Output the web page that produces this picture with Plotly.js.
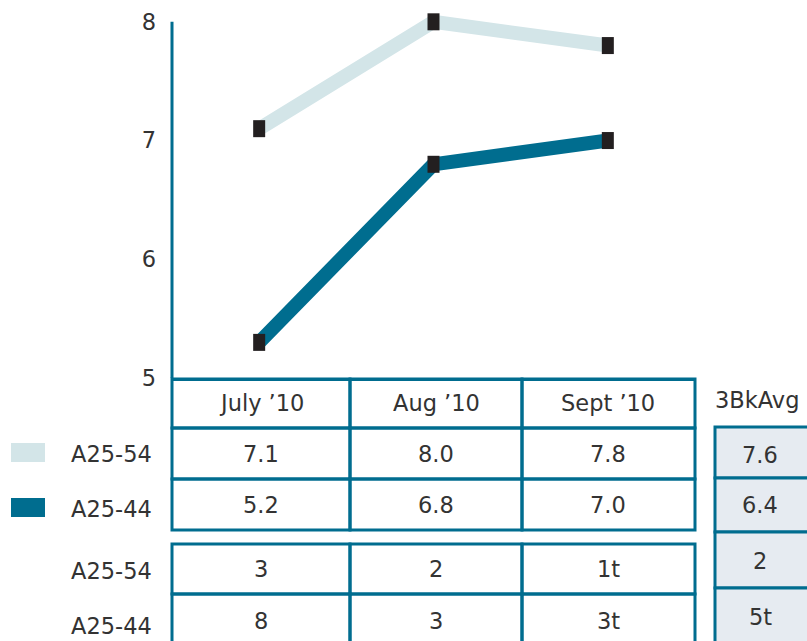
<!DOCTYPE html>
<html>
<head>
<meta charset="utf-8">
<script src="https://cdn.plot.ly/plotly-3.0.1.min.js"></script>
<style>html,body{margin:0;padding:0;background:#fff;}#chart{width:807px;height:641px;}</style>
</head>
<body>
<div id="chart"></div>
<script>
// ---- data ----
var months = ["July \u201910", "Aug \u201910", "Sept \u201910"];
var seriesNames = ["A25-54", "A25-44"];
var a2554 = [7.1, 8.0, 7.8];          // plotted values (A25-54)
var a2544 = [5.3, 6.8, 7.0];          // plotted values (A25-44)
var tableA2554 = ["7.1", "8.0", "7.8"];
var tableA2544 = ["5.2", "6.8", "7.0"];
var rankA2554 = ["3", "2", "1t"];
var rankA2544 = ["8", "3", "3t"];
var avgLabel = "3BkAvg";
var avgValues = ["7.6", "6.4", "2", "5t"];
var yTicks = [5, 6, 7, 8];

// ---- styles ----
var TEAL = "#006D8F", LIGHT = "#D3E5E8", MARK = "#231F20", TXT = "#333333";
var FONT = "DejaVu Sans";
var FS = 22.5;

// geometry (pixels); y range extends a bit above 8 so the top line is not clipped
var L = 172, R = 695, B = 378, T8 = 22;
var YMAX = 8.15;
var unit = (B - T8) / 3;
var T = Math.round(T8 - (YMAX - 8) * unit);
function px(x) { return (x - L) / (R - L); }
function py(y) { return (B - y) / (B - T); }

var shapes = [], ann = [];
function rect(x0, y0, x1, y1, fill) {
  shapes.push({type: "rect", xref: "paper", yref: "paper", layer: "above",
    x0: px(x0), x1: px(x1), y0: py(y1), y1: py(y0),
    line: {color: TEAL, width: 3}, fillcolor: fill || "rgba(0,0,0,0)"});
}
function text(t, x, y, anchor) {
  ann.push({text: t, xref: "paper", yref: "paper", x: px(x), y: py(y),
    xanchor: anchor || "center", yanchor: "middle", showarrow: false,
    font: {family: FONT, size: FS, color: TXT}});
}

// y axis line from 5 to 8
shapes.push({type: "line", xref: "paper", yref: "y", x0: 0, x1: 0, y0: yTicks[0], y1: yTicks[yTicks.length - 1],
  line: {color: TEAL, width: 3}});

// table 1 (header + values)
var colEdges = [172, 350, 522, 695];
var colCenters = [261, 436, 608];
var rows1 = [379, 428, 479, 530];
var rows2 = [544, 594, 660];
for (var c = 0; c < 3; c++) {
  for (var r = 0; r < 3; r++) rect(colEdges[c], rows1[r], colEdges[c + 1], rows1[r + 1]);
  for (var r2 = 0; r2 < 2; r2++) rect(colEdges[c], rows2[r2], colEdges[c + 1], rows2[r2 + 1]);
  text(months[c], colCenters[c], 403);
  text(tableA2554[c], colCenters[c], 454);
  text(tableA2544[c], colCenters[c], 505);
  text(rankA2554[c], colCenters[c], 569);
  text(rankA2544[c], colCenters[c], 621);
}
// average column
var avgRows = [427, 478, 532, 588, 660];
var avgY = [455, 505, 561, 617];
for (var i = 0; i < 4; i++) {
  rect(715, avgRows[i], 830, avgRows[i + 1], "#E6EBF1");
  text(avgValues[i], 760, avgY[i]);
}
text(avgLabel, 713, 400, "left");

// legend + row labels
shapes.push({type: "rect", xref: "paper", yref: "paper", x0: px(11), x1: px(45), y0: py(462), y1: py(443), line: {width: 0}, fillcolor: LIGHT});
shapes.push({type: "rect", xref: "paper", yref: "paper", x0: px(11), x1: px(45), y0: py(517), y1: py(498), line: {width: 0}, fillcolor: TEAL});
text(seriesNames[0], 69, 454, "left");
text(seriesNames[1], 69, 509, "left");
text(seriesNames[0], 69, 571, "left");
text(seriesNames[1], 69, 626, "left");

// markers (black rectangles anchored on data)
[a2554, a2544].forEach(function (s) {
  s.forEach(function (v, k) {
    shapes.push({type: "rect", xref: "x", yref: "y", xsizemode: "pixel", ysizemode: "pixel",
      xanchor: k, yanchor: v, x0: -6, x1: 6, y0: -8.5, y1: 8.5,
      line: {width: 0}, fillcolor: MARK, layer: "above"});
  });
});

var xIdx = months.map(function (m, k) { return k; });
var traces = [
  {x: xIdx, y: a2554, mode: "lines", name: seriesNames[0], line: {color: LIGHT, width: 14}, hoverinfo: "skip"},
  {x: xIdx, y: a2544, mode: "lines", name: seriesNames[1], line: {color: TEAL, width: 14}, hoverinfo: "skip"}
];

var layout = {
  width: 807, height: 641,
  margin: {l: L, r: 807 - R, t: T, b: 641 - B, pad: 0},
  paper_bgcolor: "#fff", plot_bgcolor: "#fff",
  showlegend: false,
  xaxis: {range: [-0.5, 2.5], showgrid: false, zeroline: false, showticklabels: false,
    showline: true, linecolor: TEAL, linewidth: 3, ticks: "", fixedrange: true},
  yaxis: {range: [5, YMAX], tickvals: yTicks, ticktext: yTicks.map(String), showgrid: false, zeroline: false,
    showline: false, ticks: "", ticklabelstandoff: 15,
    tickfont: {family: FONT, size: FS, color: TXT}, fixedrange: true},
  shapes: shapes, annotations: ann
};
Plotly.newPlot("chart", traces, layout, {staticPlot: true});
</script>
</body>
</html>
